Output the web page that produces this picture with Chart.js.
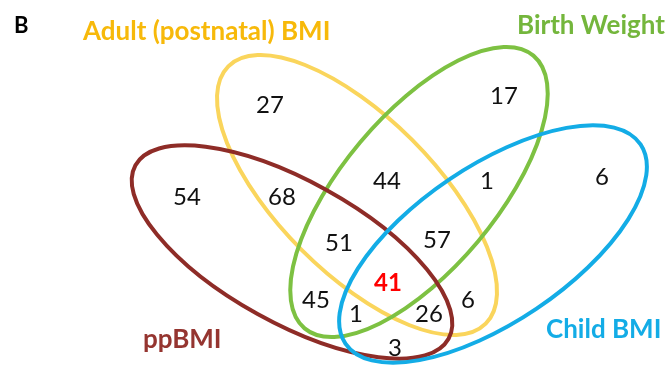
<!DOCTYPE html>
<html>
<head>
<meta charset="utf-8">
<script src="https://cdn.jsdelivr.net/npm/chart.js@4/dist/chart.umd.min.js"></script>
<style>
  html, body { margin: 0; padding: 0; background: #ffffff; }
  #wrap { width: 668px; height: 365px; position: relative; }
</style>
</head>
<body>
<div id="wrap"><canvas id="venn"></canvas></div>
<script>
// Four sets of the Venn diagram
const setNames   = ['Adult (postnatal) BMI', 'Birth Weight', 'ppBMI', 'Child BMI'];
const setColors  = ['#FAD55C', '#7DC142', '#8E2C27', '#13ACE6'];
const nameColors = ['#F7B90A', '#74B63C', '#953530', '#13ACE6'];

// Ellipse geometry per set (plot units): centre, semi-axes, tilt in degrees
const ellipseCx  = [357, 419, 292, 493];
const ellipseCy  = [195, 192, 252, 244];
const ellipseA   = [182, 178, 179, 178];
const ellipseB   = [78, 77, 71, 78];
const ellipseRot = [45, -50, 29, -34];

// Set name label anchors (left x, baseline y)
const nameX = [83, 517, 143, 546];
const nameY = [40, 34, 348, 338];

// Region counts and where each count sits
const regionCounts = [27, 17, 54, 68, 44, 1, 6, 51, 57, 41, 45, 1, 26, 6, 3];
const regionX      = [270, 504, 187, 282, 387, 487, 602, 339, 437, 388, 316, 356, 429, 468, 395];
const regionY      = [105, 96, 197, 197, 181, 181, 177, 243, 240, 283, 300, 314, 314, 300, 348];
const highlighted  = [false, false, false, false, false, false, false, false, false, true, false, false, false, false, false];

const panelLetter = 'B';

const points = regionCounts.map((v, i) => ({ x: regionX[i], y: regionY[i], v }));

const ellipsePlugin = {
  id: 'vennEllipses',
  beforeDatasetsDraw(chart) {
    const { ctx, scales } = chart;
    const xs = scales.x, ys = scales.y;
    const kx = Math.abs(xs.getPixelForValue(1) - xs.getPixelForValue(0));
    const ky = Math.abs(ys.getPixelForValue(1) - ys.getPixelForValue(0));
    ctx.save();
    ctx.lineWidth = 4;
    for (let i = 0; i < setNames.length; i++) {
      ctx.beginPath();
      ctx.strokeStyle = setColors[i];
      ctx.ellipse(
        xs.getPixelForValue(ellipseCx[i]),
        ys.getPixelForValue(ellipseCy[i]),
        ellipseA[i] * kx, ellipseB[i] * ky,
        ellipseRot[i] * Math.PI / 180, 0, Math.PI * 2
      );
      ctx.stroke();
    }
    ctx.restore();
  },
  afterDatasetsDraw(chart) {
    const { ctx, scales } = chart;
    const xs = scales.x, ys = scales.y;
    ctx.save();
    // region counts at the dataset's point positions
    const meta = chart.getDatasetMeta(0);
    ctx.textAlign = 'center';
    ctx.textBaseline = 'middle';
    meta.data.forEach((el, i) => {
      const hi = highlighted[i];
      ctx.font = (hi ? 'bold ' : '') + '24px Lato';
      ctx.fillStyle = hi ? '#FF0000' : '#111111';
      ctx.fillText(String(regionCounts[i]), el.x, el.y);
    });
    // set names
    ctx.textAlign = 'left';
    ctx.textBaseline = 'alphabetic';
    ctx.font = 'bold 26px Lato';
    for (let i = 0; i < setNames.length; i++) {
      ctx.fillStyle = nameColors[i];
      ctx.fillText(setNames[i], xs.getPixelForValue(nameX[i]), ys.getPixelForValue(nameY[i]));
    }
    // panel letter
    ctx.fillStyle = '#000000';
    ctx.font = 'bold 22px Lato';
    ctx.fillText(panelLetter, xs.getPixelForValue(14), ys.getPixelForValue(33));
    ctx.restore();
  }
};

new Chart(document.getElementById('venn'), {
  type: 'scatter',
  data: {
    datasets: [{
      data: points,
      pointRadius: 0,
      pointHoverRadius: 0,
      showLine: false
    }]
  },
  options: {
    responsive: true,
    maintainAspectRatio: false,
    animation: false,
    layout: { padding: 0 },
    plugins: { legend: { display: false }, tooltip: { enabled: false } },
    scales: {
      x: { type: 'linear', min: 0, max: 668, display: false },
      y: { type: 'linear', min: 0, max: 365, reverse: true, display: false }
    }
  },
  plugins: [ellipsePlugin]
});
</script>
</body>
</html>
